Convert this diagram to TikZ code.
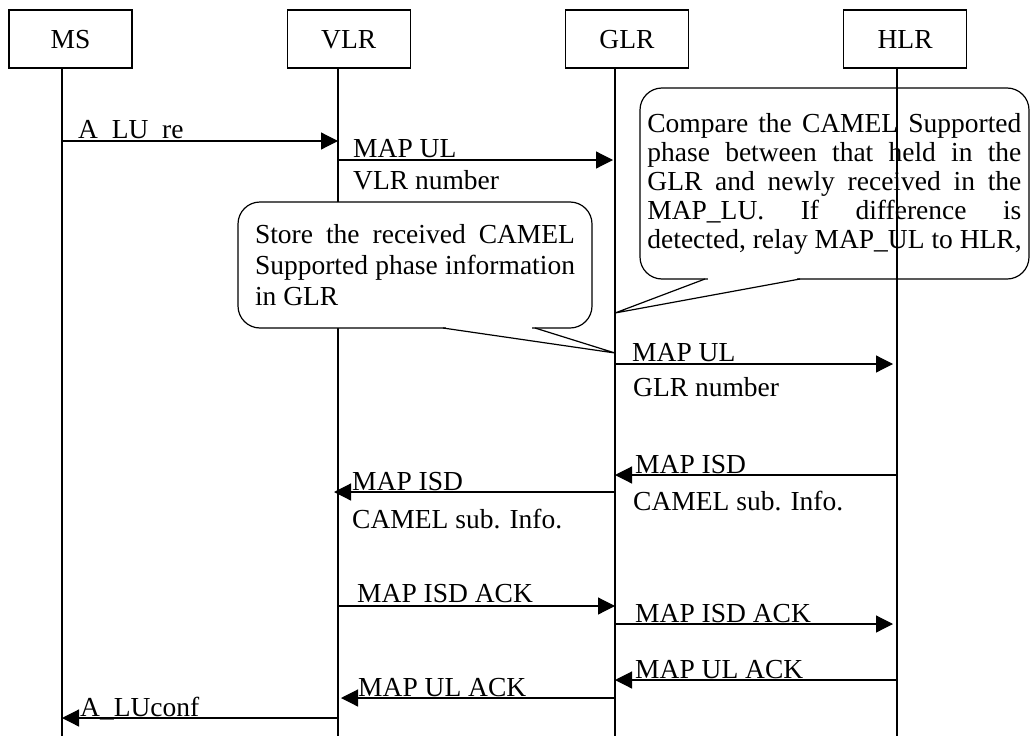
\documentclass[tikz,border=0pt]{standalone}
\usepackage{fontspec}
\setmainfont{Liberation Serif}
\usepackage{tikz}
\usetikzlibrary{arrows.meta,positioning}
\tikzset{
  msg/.style={-{Triangle[length=17pt, width=17pt]}, line width=1.2pt},
  life/.style={line width=1.2pt},
  entity box/.style={draw, line width=1.2pt, minimum width=123pt,
    minimum height=58pt, inner sep=0pt, text height=19pt, text depth=0pt},
  note/.style={draw, line width=1.2pt, rounded corners=22pt, align=left,
    inner sep=0pt},
  msg label/.style={anchor=base west, inner sep=0pt}
}

\begin{document}
\begin{tikzpicture}[x=1pt, y=-1pt, node distance=154pt,
    font=\fontsize{27.5}{30}\selectfont]
  \useasboundingbox (0,0) rectangle (1033,736);
  % entities
  \node[entity box] (msBox) at (70.5,39) {MS};
  \node[entity box, right=of msBox] (vlrBox) {VLR};
  \node[entity box, right=of vlrBox] (glrBox) {GLR};
  \node[entity box, right=of glrBox] (hlrBox) {HLR};
  \coordinate (ms) at (62,68);
  \coordinate (vlr) at (338,68);
  \coordinate (glr) at (615,68);
  \coordinate (hlr) at (897,68);
  \foreach \l in {ms,vlr,glr,hlr}
    \draw[life] (\l) -- (\l |- 0,736);
  % notes
  \coordinate (storeTip) at (glr |- 0,353);
  \node[note, fill=white, minimum width=354pt, minimum height=126pt,
    font=\fontsize{27.5}{31}\selectfont] (storeNote) at (415,265)
    {\makebox[320pt][s]{Store the received CAMEL}\\
     \makebox[320pt][s]{Supported phase information}\\
     in GLR};
  \fill[white] (446,324) rectangle (532,332);
  \draw[life] (443,328) -- (storeTip) -- (535,328);
  \coordinate (compareTip) at (glr |- 0,313);
  \node[note, minimum width=389pt, minimum height=191pt,
    font=\fontsize{27.5}{29}\selectfont] (compareNote) at (834.5,183.5)
    {\makebox[374pt][s]{Compare the CAMEL Supported}\\
     \makebox[374pt][s]{phase between that held in the}\\
     \makebox[374pt][s]{GLR and newly received in the}\\
     \makebox[374pt][s]{MAP\_LU. If difference is}\\
     detected, relay MAP\_UL to HLR,};
  \fill[white] (708,276) rectangle (797,282);
  \draw[life] (705,279) -- (compareTip) -- (800,279);
  % messages
  \draw[msg] (ms |- 0,141) -- (vlr |- 0,141);
  \node[msg label] (luReq) at (78,138) {A\_LU\_re};
  \draw[msg, shorten >=2pt] (vlr |- 0,160) -- (glr |- 0,160);
  \node[msg label] (ulVlr) at (353,157) {MAP UL};
  \node[msg label] (vlrNum) at (353,189) {VLR number};
  \draw[msg, shorten >=4pt] (glr |- 0,364) -- (hlr |- 0,364);
  \node[msg label] (ulGlr) at (632,361) {MAP UL};
  \node[msg label] (glrNum) at (633,396) {GLR number};
  \draw[msg] (hlr |- 0,475) -- (glr |- 0,475);
  \node[msg label] (isdHlr) at (635,473) {MAP ISD};
  \node[msg label] (camelHlr) at (633,510) {CAMEL sub. Info.};
  \draw[msg, shorten >=-4pt] (glr |- 0,492) -- (vlr |- 0,492);
  \node[msg label] (isdGlr) at (352,490) {MAP ISD};
  \node[msg label] (camelGlr) at (352,528) {CAMEL sub. Info.};
  \draw[msg] (vlr |- 0,606) -- (glr |- 0,606);
  \node[msg label] (isdAckVlr) at (357,602) {MAP ISD ACK};
  \draw[msg, shorten >=4pt] (glr |- 0,624) -- (hlr |- 0,624);
  \node[msg label] (isdAckGlr) at (635,622) {MAP ISD ACK};
  \draw[msg] (hlr |- 0,680) -- (glr |- 0,680);
  \node[msg label] (ulAckHlr) at (635,678) {MAP UL ACK};
  \draw[msg, shorten >=3pt] (glr |- 0,698) -- (vlr |- 0,698);
  \node[msg label] (ulAckGlr) at (358,696) {MAP UL ACK};
  \draw[msg] (vlr |- 0,718) -- (ms |- 0,718);
  \node[msg label] (luConf) at (80,716) {A\_LUconf};
\end{tikzpicture}
\end{document}
